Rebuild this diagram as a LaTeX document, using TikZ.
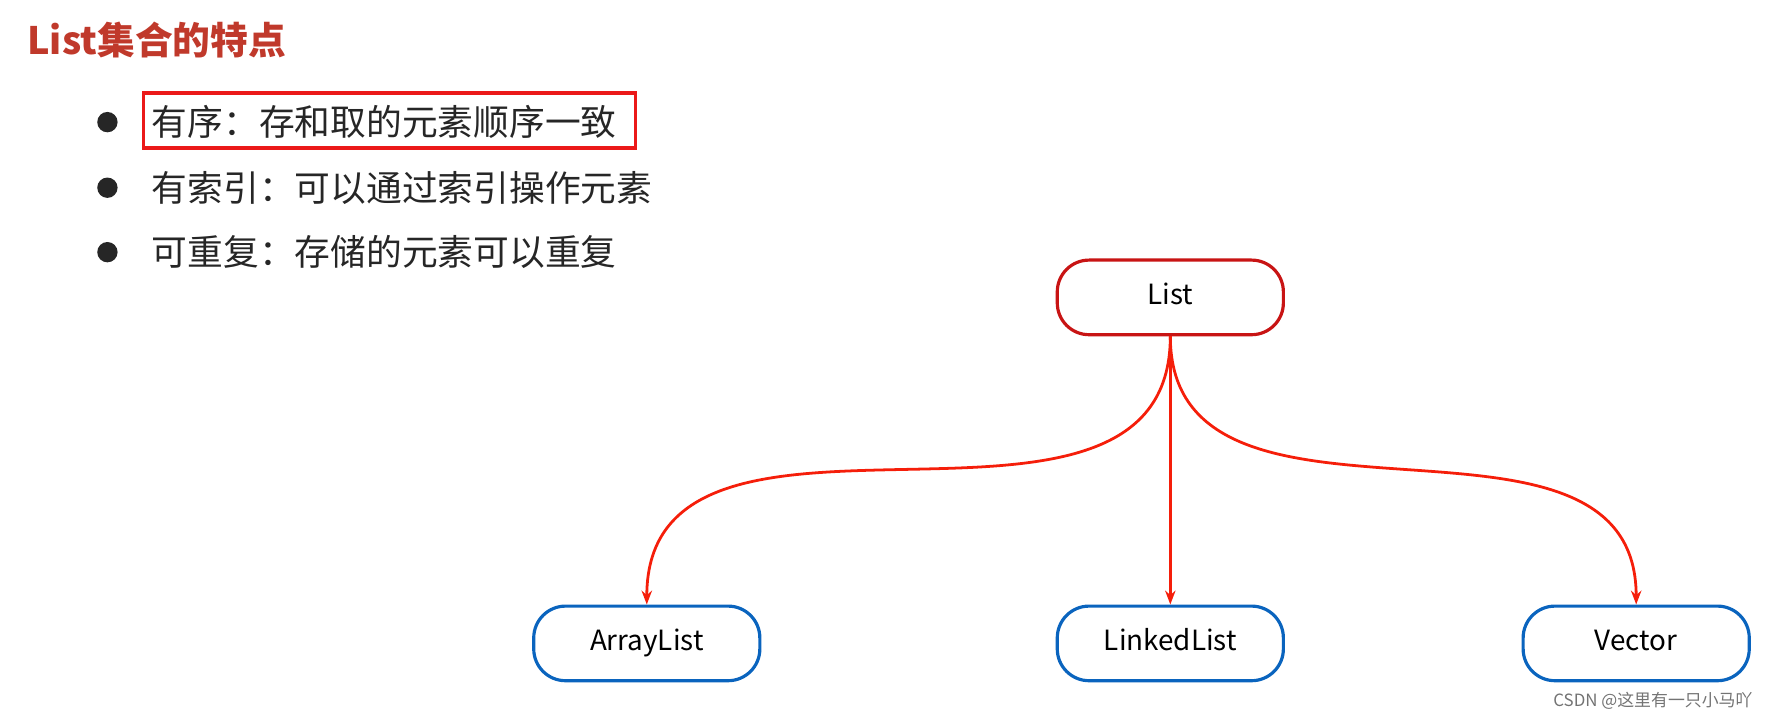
\documentclass[tikz,border=0pt]{standalone}
\usepackage{fontspec}
\setmainfont{Noto Sans CJK SC}
\usetikzlibrary{arrows.meta}
\definecolor{titlered}{RGB}{192,57,43}
\definecolor{boxred}{RGB}{200,20,20}
\definecolor{markred}{RGB}{235,25,25}
\definecolor{linkred}{RGB}{245,30,10}
\definecolor{boxblue}{RGB}{10,100,190}
\tikzset{
  item/.style={anchor=west, font=\fontsize{18}{20}\selectfont, text=black!85},
  root/.style={draw=boxred, line width=1.6pt, rounded corners=16pt, minimum width=4cm, minimum height=1.32cm, text height=1.6ex, text depth=0.3ex, font=\fontsize{14}{16}\selectfont},
  leaf/.style={root, draw=boxblue},
  link/.style={draw=linkred, line width=1.4pt, -{Stealth[length=7pt]}}
}
\begin{document}
\begin{tikzpicture}[x=0.02cm,y=-0.02cm]
\useasboundingbox (0,0) rectangle (1568,637);
\node[anchor=west, text=titlered, font=\fontsize{19}{21}\selectfont\bfseries] (title) at (18,35) {List集合的特点};
\foreach \yy/\txt/\nm in {108/有序：存和取的元素顺序一致/a, 166/有索引：可以通过索引操作元素/b, 223/可重复：存储的元素可以重复/c}{
	\fill[black!85] (95,\yy) circle (9);
	\node[item] (item\nm) at (128,\yy) {\txt};
}
\draw[markred, line width=1.8pt] (127,82) rectangle (562,131);
\node[root] (list) at (1035,263) {List};
\node[leaf] (arr) at (572,569) {ArrayList};
\node[leaf] (lnk) at (1035,569) {LinkedList};
\node[leaf] (vec) at (1447,569) {Vector};
\draw[link] (list.south) to[out=-90,in=90,looseness=1.1] (arr.north);
\draw[link] (list.south) -- (lnk.north);
\draw[link] (list.south) to[out=-90,in=90,looseness=1.1] (vec.north);
\node[anchor=east, text=black!55, font=\fontsize{8.5}{10}\selectfont] (mark) at (1556,620) {CSDN @这里有一只小马吖};
\end{tikzpicture}
\end{document}
